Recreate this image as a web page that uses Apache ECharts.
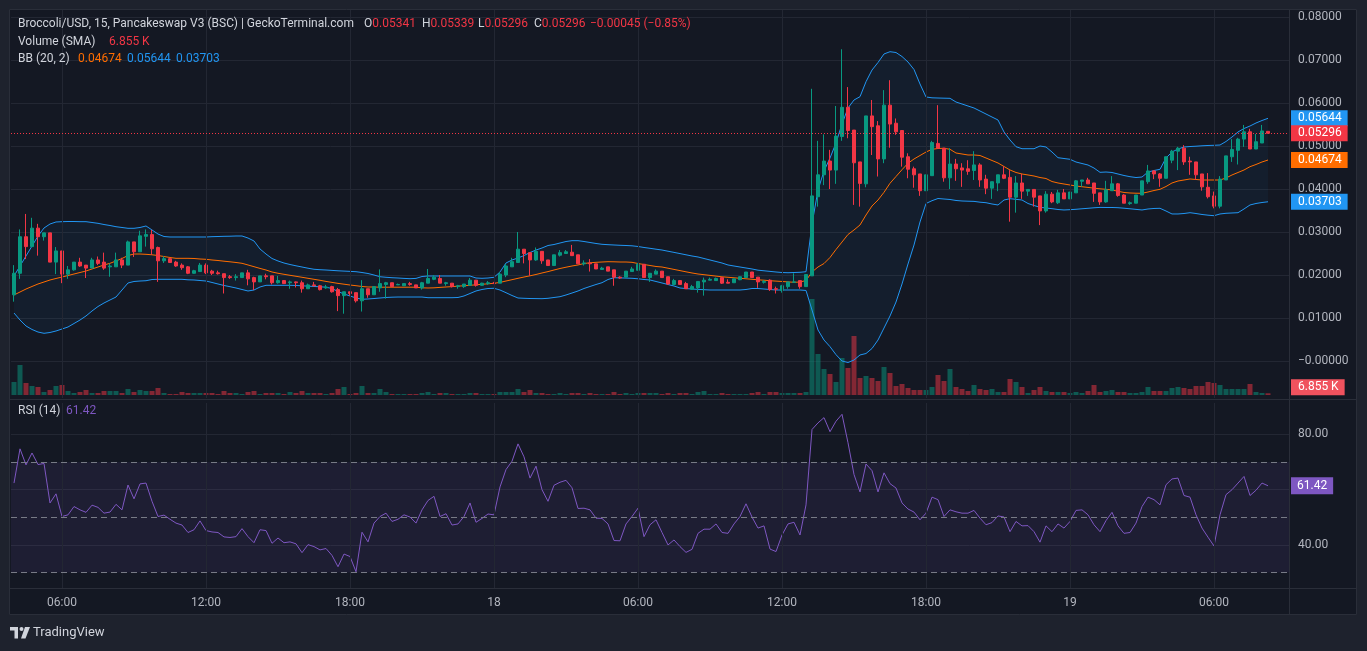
<!DOCTYPE html>
<html><head><meta charset="utf-8">
<script src="https://cdn.jsdelivr.net/npm/echarts@6/dist/echarts.min.js"></script>
<style>html,body{margin:0;padding:0;background:#1e222d;overflow:hidden}#c{width:1367px;height:651px}</style>
</head><body><div id="c"></div>
<script>
// ---- data (15-minute candles, 17th 04:00 -> 19th 08:15) ----
const openP = [.0154,.0204,.0289,.0266,.0309,.0289,.0298,.0230,.0256,.0202,
.0212,.0230,.0223,.0216,.0235,.0230,.0219,.0219,.0235,.0223,
.0277,.0254,.0290,.0294,.0264,.0233,.0238,.0230,.0223,.0219,
.0204,.0208,.0223,.0209,.0205,.0203,.0196,.0194,.0194,.0205,
.0194,.0184,.0198,.0198,.0182,.0187,.0182,.0184,.0182,.0168,
.0177,.0175,.0170,.0173,.0166,.0152,.0161,.0159,.0140,.0168,
.0154,.0170,.0178,.0182,.0177,.0175,.0180,.0177,.0170,.0181,
.0190,.0192,.0180,.0181,.0173,.0173,.0176,.0188,.0176,.0180,
.0181,.0181,.0200,.0219,.0229,.0260,.0252,.0235,.0255,.0235,
.0222,.0246,.0250,.0253,.0247,.0226,.0228,.0226,.0213,.0219,
.0212,.0195,.0195,.0208,.0211,.0225,.0194,.0202,.0209,.0196,
.0178,.0187,.0180,.0167,.0170,.0184,.0188,.0187,.0194,.0183,
.0182,.0189,.0194,.0207,.0195,.0183,.0188,.0168,.0164,.0173,
.0183,.0187,.0173,.0198,.0382,.0433,.0465,.0444,.0522,.0590,
.0537,.0463,.0412,.0570,.0547,.0470,.0595,.0553,.0536,.0475,
.0447,.0435,.0396,.0431,.0506,.0495,.0426,.0458,.0449,.0447,
.0443,.0456,.0423,.0402,.0414,.0433,.0427,.0381,.0414,.0395,
.0399,.0384,.0349,.0388,.0368,.0391,.0377,.0391,.0418,.0421,
.0414,.0391,.0370,.0396,.0412,.0386,.0366,.0367,.0386,.0417,
.0442,.0435,.0425,.0467,.0488,.0495,.0465,.0463,.0435,.0404,
.0384,.0360,.0421,.0475,.0490,.0516,.0533,.0493,.0507,.05341];
const closeP = [.0204,.0289,.0266,.0309,.0289,.0298,.0230,.0256,.0202,.0212,
.0230,.0221,.0216,.0235,.0227,.0216,.0221,.0235,.0223,.0277,
.0254,.0291,.0294,.0261,.0233,.0238,.0229,.0221,.0217,.0204,
.0210,.0223,.0205,.0204,.0203,.0194,.0194,.0196,.0205,.0191,
.0184,.0198,.0196,.0182,.0187,.0180,.0184,.0182,.0168,.0177,
.0175,.0166,.0172,.0161,.0152,.0161,.0157,.0140,.0168,.0154,
.0173,.0180,.0182,.0173,.0178,.0180,.0178,.0170,.0182,.0192,
.0195,.0181,.0182,.0173,.0175,.0179,.0188,.0176,.0181,.0182,
.0180,.0202,.0221,.0231,.0260,.0250,.0235,.0255,.0233,.0222,
.0247,.0252,.0254,.0245,.0226,.0228,.0226,.0214,.0216,.0209,
.0195,.0193,.0209,.0214,.0225,.0194,.0204,.0209,.0194,.0179,
.0187,.0178,.0168,.0173,.0185,.0188,.0190,.0192,.0181,.0181,
.0191,.0196,.0207,.0194,.0184,.0185,.0166,.0167,.0175,.0184,
.0184,.0173,.0201,.0384,.0433,.0465,.0444,.0523,.0590,.0536,
.0461,.0413,.0570,.0545,.0470,.0595,.0551,.0533,.0474,.0446,
.0433,.0396,.0433,.0508,.0495,.0426,.0458,.0447,.0444,.0441,
.0456,.0421,.0402,.0417,.0433,.0425,.0381,.0414,.0395,.0399,
.0381,.0349,.0388,.0370,.0391,.0377,.0393,.0419,.0421,.0412,
.0390,.0370,.0398,.0412,.0385,.0367,.0368,.0386,.0419,.0442,
.0435,.0425,.0475,.0488,.0495,.0463,.0463,.0433,.0405,.0382,
.0360,.0423,.0477,.0492,.0516,.0533,.0493,.0510,.0535,.05296];
const lowP = [.0138,.0191,.0237,.0266,.0245,.0280,.0230,.0202,.0181,.0191,
.0210,.0219,.0193,.0216,.0223,.0212,.0196,.0219,.0216,.0223,
.0242,.0254,.0266,.0247,.0184,.0228,.0228,.0219,.0212,.0202,
.0203,.0207,.0202,.0200,.0201,.0157,.0191,.0187,.0194,.0176,
.0165,.0184,.0190,.0178,.0180,.0179,.0168,.0171,.0159,.0168,
.0173,.0164,.0168,.0159,.0116,.0110,.0152,.0136,.0115,.0147,
.0154,.0161,.0145,.0173,.0177,.0175,.0175,.0170,.0166,.0181,
.0188,.0181,.0175,.0171,.0168,.0170,.0176,.0173,.0175,.0177,
.0179,.0181,.0195,.0219,.0229,.0227,.0198,.0233,.0226,.0222,
.0222,.0243,.0250,.0245,.0226,.0222,.0208,.0214,.0212,.0209,
.0175,.0191,.0195,.0208,.0211,.0194,.0184,.0202,.0194,.0177,
.0176,.0178,.0168,.0166,.0159,.0152,.0188,.0186,.0179,.0181,
.0182,.0188,.0194,.0194,.0170,.0180,.0163,.0157,.0159,.0168,
.0183,.0168,.0173,.0198,.0359,.0409,.0400,.0412,.0512,.0518,
.0363,.0359,.0404,.0479,.0429,.0460,.0496,.0526,.0452,.0425,
.0403,.0384,.0396,.0431,.0495,.0417,.0400,.0419,.0405,.0433,
.0421,.0405,.0388,.0377,.0395,.0423,.0324,.0345,.0377,.0384,
.0359,.0316,.0345,.0367,.0365,.0377,.0377,.0391,.0405,.0412,
.0370,.0363,.0368,.0396,.0382,.0367,.0363,.0367,.0386,.0412,
.0423,.0405,.0425,.0460,.0444,.0456,.0433,.0421,.0396,.0378,
.0355,.0355,.0421,.0463,.0457,.0498,.0493,.0493,.0507,.05296];
const highP = [.0223,.0306,.0342,.0333,.0319,.0298,.0298,.0265,.0256,.0221,
.0230,.0240,.0223,.0240,.0243,.0252,.0227,.0252,.0240,.0280,
.0277,.0303,.0306,.0305,.0266,.0244,.0240,.0233,.0227,.0221,
.0212,.0228,.0227,.0212,.0210,.0203,.0200,.0202,.0205,.0212,
.0196,.0198,.0203,.0198,.0198,.0188,.0187,.0185,.0187,.0180,
.0184,.0177,.0177,.0175,.0170,.0161,.0161,.0159,.0188,.0168,
.0173,.0213,.0184,.0182,.0180,.0180,.0184,.0177,.0184,.0214,
.0200,.0200,.0184,.0181,.0177,.0179,.0193,.0188,.0182,.0186,
.0184,.0207,.0226,.0240,.0300,.0260,.0252,.0264,.0255,.0235,
.0247,.0258,.0258,.0270,.0247,.0234,.0237,.0226,.0219,.0219,
.0212,.0197,.0209,.0219,.0228,.0225,.0204,.0213,.0209,.0196,
.0191,.0187,.0184,.0177,.0185,.0194,.0194,.0194,.0194,.0190,
.0191,.0197,.0207,.0207,.0195,.0188,.0190,.0173,.0177,.0184,
.0204,.0187,.0201,.0633,.0512,.0527,.0491,.0593,.0725,.0637,
.0537,.0463,.0570,.0607,.0558,.0630,.0653,.0564,.0536,.0483,
.0452,.0435,.0433,.0512,.0595,.0495,.0495,.0470,.0460,.0467,
.0488,.0460,.0433,.0417,.0433,.0453,.0444,.0430,.0435,.0399,
.0399,.0384,.0395,.0393,.0398,.0400,.0393,.0421,.0421,.0426,
.0414,.0391,.0419,.0430,.0414,.0388,.0371,.0386,.0419,.0456,
.0444,.0437,.0475,.0491,.0498,.0502,.0475,.0463,.0435,.0437,
.0394,.0430,.0477,.0516,.0519,.0549,.0540,.0528,.0549,.05341];
const volumeK = [52,120,48,36,32,12,20,36,40,16,
8,12,20,8,8,16,16,16,8,24,
12,20,16,16,28,8,4,4,12,8,
8,8,8,8,4,16,8,8,4,12,
16,4,8,8,8,4,12,8,16,8,
8,8,4,8,24,32,4,8,36,8,
8,24,12,4,4,4,4,4,8,12,
4,8,8,4,4,4,8,8,4,4,
4,12,12,12,24,12,20,8,8,4,
4,8,4,8,8,4,8,4,4,4,
12,4,8,4,8,8,8,8,4,8,
4,8,8,4,12,16,4,4,8,4,
4,4,4,8,12,4,12,12,8,8,
8,8,12,384,164,104,84,52,148,108,
236,68,76,68,56,112,88,36,44,28,
20,20,20,32,80,56,104,32,24,16,
40,24,20,24,12,12,64,52,32,8,
20,32,16,12,12,12,8,12,8,16,
40,12,16,20,12,12,8,8,12,32,
16,16,16,28,32,28,24,36,36,52,
48,40,24,24,24,24,44,12,8,6.855];
const bbUpper = [.01977,.02209,.02442,.02674,.02907,.03093,.03186,.03233,.03240,.03244,
.03244,.03240,.03240,.03221,.03202,.03174,.03151,.03123,.03105,.03086,
.03086,.03105,.03140,.03047,.02953,.02895,.02884,.02884,.02884,.02884,
.02884,.02884,.02884,.02891,.02895,.02900,.02902,.02907,.02907,.02860,
.02791,.02605,.02488,.02384,.02326,.02279,.02244,.02214,.02186,.02158,
.02133,.02123,.02116,.02107,.02098,.02091,.02084,.02077,.02058,.02035,
.02000,.01960,.01947,.01937,.01930,.01921,.01914,.01921,.01965,.01977,
.01977,.01977,.01977,.01977,.01977,.01977,.01977,.01930,.01923,.01930,
.01947,.02070,.02279,.02349,.02395,.02453,.02523,.02581,.02628,.02686,
.02709,.02744,.02779,.02798,.02798,.02779,.02756,.02733,.02714,.02705,
.02698,.02691,.02686,.02679,.02663,.02640,.02621,.02600,.02581,.02553,
.02526,.02498,.02470,.02442,.02419,.02384,.02349,.02314,.02279,.02233,
.02209,.02186,.02163,.02140,.02112,.02098,.02084,.02070,.02058,.02053,
.02058,.02063,.02077,.03186,.03977,.04419,.04721,.05070,.05512,.05884,
.06070,.06147,.06495,.06767,.06942,.07140,.07193,.07174,.07081,.06953,
.06779,.06442,.06140,.06121,.06116,.06112,.06109,.06023,.05977,.05930,
.05884,.05814,.05744,.05674,.05605,.05326,.05140,.04984,.04937,.04937,
.04937,.05000,.04977,.04860,.04728,.04709,.04691,.04628,.04593,.04558,
.04488,.04388,.04395,.04384,.04349,.04314,.04286,.04267,.04279,.04395,
.04430,.04458,.04721,.04860,.04930,.04977,.04988,.04995,.05005,.05012,
.05016,.05023,.05105,.05209,.05326,.05407,.05465,.05535,.05593,.05644];
const bbBasis = [.01535,.01605,.01674,.01733,.01791,.01837,.01884,.01919,.01953,.01988,
.02023,.02058,.02093,.02140,.02186,.02233,.02272,.02326,.02384,.02453,
.02488,.02488,.02481,.02470,.02453,.02430,.02407,.02388,.02388,.02388,
.02384,.02372,.02365,.02349,.02337,.02321,.02307,.02291,.02272,.02233,
.02193,.02153,.02116,.02070,.02040,.02016,.01993,.01970,.01947,.01923,
.01900,.01877,.01851,.01828,.01805,.01786,.01767,.01751,.01733,.01721,
.01721,.01716,.01716,.01716,.01716,.01716,.01716,.01716,.01702,.01698,
.01702,.01712,.01721,.01730,.01740,.01751,.01760,.01772,.01784,.01795,
.01807,.01828,.01860,.01891,.01923,.01953,.01981,.02012,.02047,.02079,
.02116,.02151,.02181,.02209,.02233,.02267,.02284,.02295,.02302,.02309,
.02307,.02302,.02302,.02295,.02267,.02244,.02221,.02198,.02186,.02158,
.02130,.02102,.02074,.02047,.02023,.02007,.01991,.01974,.01958,.01947,
.01935,.01923,.01912,.01900,.01888,.01879,.01867,.01858,.01849,.01840,
.01830,.01837,.01872,.02070,.02186,.02267,.02407,.02593,.02767,.02942,
.03047,.03163,.03395,.03605,.03744,.03923,.04133,.04291,.04449,.04598,
.04698,.04779,.04860,.04923,.04942,.04947,.04923,.04837,.04814,.04791,
.04791,.04779,.04721,.04663,.04605,.04523,.04442,.04384,.04349,.04326,
.04302,.04267,.04244,.04174,.04140,.04116,.04093,.04070,.04053,.04037,
.04019,.04005,.03993,.03977,.03947,.03919,.03907,.03902,.03900,.03930,
.03965,.03993,.04058,.04140,.04186,.04209,.04233,.04221,.04209,.04209,
.04209,.04209,.04256,.04326,.04384,.04442,.04519,.04570,.04628,.04674];
const bbLower = [.01116,.00953,.00814,.00733,.00674,.00644,.00663,.00698,.00744,.00791,
.00872,.00953,.01047,.01163,.01267,.01349,.01419,.01488,.01651,.01814,
.01849,.01860,.01867,.01895,.01900,.01900,.01900,.01900,.01900,.01888,
.01884,.01872,.01860,.01826,.01791,.01756,.01728,.01698,.01663,.01628,
.01651,.01721,.01760,.01760,.01760,.01760,.01760,.01756,.01749,.01740,
.01733,.01726,.01716,.01686,.01616,.01558,.01512,.01465,.01435,.01442,
.01453,.01465,.01477,.01484,.01488,.01488,.01488,.01488,.01488,.01472,
.01472,.01472,.01472,.01472,.01477,.01512,.01570,.01628,.01663,.01686,
.01691,.01651,.01588,.01523,.01465,.01458,.01453,.01451,.01449,.01458,
.01477,.01495,.01535,.01581,.01628,.01686,.01733,.01779,.01821,.01895,
.01937,.01933,.01928,.01923,.01912,.01895,.01884,.01849,.01814,.01779,
.01744,.01698,.01684,.01674,.01665,.01658,.01651,.01651,.01651,.01651,
.01651,.01651,.01663,.01686,.01686,.01674,.01663,.01651,.01651,.01651,
.01651,.01651,.01640,.01186,.00721,.00488,.00333,.00147,.00000,-.00035,
.00023,.00140,.00174,.00291,.00488,.00767,.01047,.01372,.01791,.02256,
.02698,.03233,.03663,.03728,.03779,.03767,.03756,.03733,.03721,.03716,
.03712,.03693,.03681,.03651,.03628,.03744,.03774,.03760,.03744,.03663,
.03616,.03574,.03558,.03542,.03523,.03512,.03519,.03528,.03540,.03551,
.03563,.03572,.03570,.03570,.03565,.03553,.03540,.03526,.03512,.03535,
.03547,.03551,.03488,.03419,.03419,.03430,.03449,.03430,.03407,.03391,
.03379,.03419,.03435,.03442,.03449,.03535,.03628,.03663,.03686,.03703];
const rsi = [62.4,74.8,69.0,73.3,69.1,69.5,55.2,58.5,50.3,50.9,
53.9,52.7,51.8,54.4,53.6,51.5,51.9,54.7,52.7,61.7,
56.7,62.1,62.4,55.8,50.3,50.8,49.3,47.9,47.2,44.5,
45.5,48.7,45.2,44.7,44.5,42.9,42.7,43.0,45.9,43.0,
40.8,45.5,45.2,40.6,42.5,40.8,41.1,40.4,37.2,40.1,
39.4,38.2,38.7,36.2,32.1,36.7,35.8,30.3,44.6,41.1,
47.9,50.3,51.5,48.5,49.3,50.9,50.1,47.9,52.7,56.1,
57.6,50.3,51.3,47.2,47.6,50.3,55.2,48.2,49.6,51.2,
50.9,61.0,67.3,70.3,76.6,71.9,64.2,68.5,60.0,55.8,
61.6,62.7,63.4,60.7,53.2,53.3,52.7,49.7,49.6,47.6,
41.6,41.5,47.6,50.3,53.3,43.0,47.3,49.1,44.5,40.0,
41.8,39.4,37.3,38.4,44.2,45.7,45.7,47.6,44.5,44.2,
47.6,50.3,54.9,50.1,46.1,46.9,38.5,37.6,43.6,47.6,
48.2,43.6,54.5,81.8,84.2,86.1,81.0,84.8,87.3,77.0,
65.5,59.2,69.3,66.9,59.2,66.1,62.2,60.6,55.2,53.0,
51.9,49.1,51.5,57.3,56.4,50.3,52.7,52.0,51.5,51.5,
52.5,49.7,47.3,48.1,50.5,50.1,44.8,48.5,46.9,47.0,
44.8,41.0,46.9,44.8,47.6,46.1,48.5,52.5,52.7,50.9,
47.3,44.8,48.8,51.8,46.9,44.2,44.5,47.9,53.9,57.3,
56.4,54.5,61.8,63.9,64.2,57.9,57.3,50.9,46.1,42.8,
39.6,50.9,58.2,60.0,62.4,64.8,57.9,59.8,62.4,61.42];
const priceTicks = [0,0.01,0.02,0.03,0.04,0.05,0.06,0.07,0.08];
const rsiLabelTicks = [40,80];
const rsiGridTicks = [40,60,80];
const rsiLevels = [70,50,30];
const timeTicks = {8:'06:00',32:'12:00',56:'18:00',80:'18',104:'06:00',128:'12:00',152:'18:00',176:'19',200:'06:00'};
const N_SLOTS = 213; // 210 candles + empty right margin
const categories = [];
for (let i = 0; i < N_SLOTS; i++) {
  const m = 4 * 60 + 15 * i, d = 17 + Math.floor(m / 1440), mm = m % 1440;
  categories.push(d + ' ' + String(Math.floor(mm / 60)).padStart(2, '0') + ':' + String(mm % 60).padStart(2, '0'));
}

// ---- styles ----
const UP = '#089981', DOWN = '#f23645', BLUE = '#2196f3', ORANGE = '#ff6d00', PURPLE = '#7e57c2';
const GRIDC = '#232733', TXT = '#b2b5be', FONT = 'Roboto';
const CLEAR = 'rgba(0,0,0,0)';
const last = closeP.length - 1;
function tag(text, bg, extra) {
  return Object.assign({ show: true, position: 'end', formatter: text, color: '#ffffff', backgroundColor: bg,
    padding: [2, 6, 1, 7], fontSize: 12, fontFamily: FONT, lineHeight: 13, distance: 2, opacity: 1 }, extra || {});
}
function tagLine(value, text, bg, extra) {
  return { silent: true, symbol: 'none', precision: 6, lineStyle: { color: CLEAR, width: 1, type: 'solid' }, data: [{ yAxis: value }], label: tag(text, bg, extra) };
}
const vLines = Object.keys(timeTicks).map(k => ({ xAxis: +k }));

const chart = echarts.init(document.getElementById('c'), null, { renderer: 'canvas', width: 1367, height: 651 });
const option = {
  backgroundColor: '#141823',
  animation: false,
  grid: [
    { left: 11, right: 78, top: 10, height: 388 },
    { left: 11, right: 78, top: 275, height: 120 },
    { left: 11, right: 78, top: 403, height: 185 }
  ],
  xAxis: [
    { type: 'category', gridIndex: 0, data: categories, show: false },
    { type: 'category', gridIndex: 1, data: categories, show: false },
    { type: 'category', gridIndex: 2, data: categories, axisLine: { show: false }, axisTick: { show: false }, splitLine: { show: false },
      axisLabel: { interval: (i) => timeTicks[i] !== undefined, formatter: (v, i) => timeTicks[i] || '', color: TXT, fontSize: 12, fontFamily: FONT, margin: 9 } }
  ],
  yAxis: [
    { type: 'value', gridIndex: 0, position: 'right', min: (361 - 398) / 4300, max: (361 - 10) / 4300,
      axisLine: { show: false }, axisTick: { show: false, customValues: priceTicks },
      axisLabel: { customValues: priceTicks, formatter: v => (Math.abs(v) < 1e-9 ? '\u22120.00000' : v.toFixed(5)), color: TXT, fontSize: 12, fontFamily: FONT, margin: 9 },
      splitLine: { show: true, lineStyle: { color: GRIDC, width: 1 } } },
    { type: 'value', gridIndex: 1, min: 0, max: 480, show: false },
    { type: 'value', gridIndex: 2, position: 'right', min: 24.4, max: 91.4,
      axisLine: { show: false }, axisTick: { show: false, customValues: rsiGridTicks },
      axisLabel: { customValues: rsiLabelTicks, formatter: v => v.toFixed(2), color: TXT, fontSize: 12, fontFamily: FONT, margin: 9 },
      splitLine: { show: true, lineStyle: { color: GRIDC, width: 1 } } }
  ],
  series: [
    { name: 'vgrid', type: 'line', xAxisIndex: 0, yAxisIndex: 0, data: [], silent: true, z: 0,
      markLine: { silent: true, symbol: 'none', label: { show: false }, lineStyle: { color: GRIDC, width: 1, type: 'solid' }, data: vLines } },
    { name: 'volume', type: 'bar', xAxisIndex: 1, yAxisIndex: 1, barWidth: 5, z: 1, silent: true, clip: false,
      data: volumeK.map((v, i) => ({ value: v, itemStyle: { color: closeP[i] >= openP[i] ? 'rgba(8,153,129,0.5)' : 'rgba(242,54,69,0.5)' } })),
      markLine: tagLine(volumeK[last], '6.855 K', '#f0525e', { offset: [0, -6] }) },
    { name: 'bbBase', type: 'line', data: bbLower, stack: 'bb', stackStrategy: 'all', symbol: 'none', lineStyle: { opacity: 0 }, silent: true, z: 1 },
    { name: 'bbFill', type: 'line', data: bbUpper.map((u, i) => u - bbLower[i]), stack: 'bb', stackStrategy: 'all', symbol: 'none',
      lineStyle: { opacity: 0 }, areaStyle: { color: 'rgba(33,150,243,0.07)' }, silent: true, z: 1 },
    { name: 'bbUpper', type: 'line', data: bbUpper, symbol: 'none', lineStyle: { color: BLUE, width: 1 }, z: 2, silent: true, clip: false,
      markLine: tagLine(bbUpper[last], '0.05644', BLUE) },
    { name: 'bbLower', type: 'line', data: bbLower, symbol: 'none', lineStyle: { color: BLUE, width: 1 }, z: 2, silent: true, clip: false,
      markLine: tagLine(bbLower[last], '0.03703', BLUE) },
    { name: 'bbBasis', type: 'line', data: bbBasis, symbol: 'none', lineStyle: { color: ORANGE, width: 1 }, z: 2, silent: true, clip: false,
      markLine: tagLine(bbBasis[last], '0.04674', ORANGE) },
    { name: 'price', type: 'candlestick', barWidth: 4, z: 3, silent: true, clip: false,
      data: openP.map((o, i) => [o, closeP[i], lowP[i], highP[i]]),
      itemStyle: { color: UP, color0: DOWN, borderColor: UP, borderColor0: DOWN, borderWidth: 1 },
      markLine: { silent: true, symbol: 'none', precision: 6, data: [{ yAxis: closeP[last] }], lineStyle: { color: DOWN, width: 1, type: [1, 2] },
        label: tag('0.05296', DOWN) } },
    { name: 'rgrid', type: 'line', xAxisIndex: 2, yAxisIndex: 2, data: [], silent: true, z: 0,
      markLine: { silent: true, symbol: 'none', label: { show: false }, lineStyle: { color: GRIDC, width: 1, type: 'solid' }, data: vLines } },
    { name: 'rsi', type: 'line', xAxisIndex: 2, yAxisIndex: 2, data: rsi, symbol: 'none', lineStyle: { color: PURPLE, width: 1 }, z: 3, silent: true, clip: false,
      markArea: { silent: true, itemStyle: { color: 'rgba(126,87,194,0.1)' }, data: [[{ yAxis: 30 }, { yAxis: 70 }]] },
      markLine: { silent: true, symbol: 'none', precision: 4,
        data: rsiLevels.map(v => ({ yAxis: v, label: { show: false }, lineStyle: { color: '#787b86', width: 1, type: [6, 4] } }))
          .concat([{ yAxis: rsi[last], lineStyle: { color: CLEAR, width: 1, type: 'solid' }, label: tag('61.42', PURPLE, { padding: [2, 6, 2, 6] }) }]) } }
  ],
  graphic: [
    { type: 'rect', silent: true, z: 100, shape: { x: 0, y: 0, width: 1367, height: 9 }, style: { fill: '#1e222d' } },
    { type: 'rect', silent: true, z: 100, shape: { x: 0, y: 0, width: 9, height: 651 }, style: { fill: '#1e222d' } },
    { type: 'rect', silent: true, z: 100, shape: { x: 1357, y: 0, width: 10, height: 651 }, style: { fill: '#1e222d' } },
    { type: 'rect', silent: true, z: 100, shape: { x: 0, y: 615, width: 1367, height: 36 }, style: { fill: '#1e222d' } },
    { type: 'rect', silent: true, z: 101, shape: { x: 9.5, y: 9.5, width: 1347, height: 605 }, style: { fill: 'none', stroke: '#2a2e39', lineWidth: 1 } },
    { type: 'line', silent: true, z: 101, shape: { x1: 9, y1: 399.5, x2: 1357, y2: 399.5 }, style: { stroke: '#2a2e39', lineWidth: 1 } },
    { type: 'line', silent: true, z: 101, shape: { x1: 9, y1: 588.5, x2: 1357, y2: 588.5 }, style: { stroke: '#2a2e39', lineWidth: 1 } },
    { type: 'line', silent: true, z: 101, shape: { x1: 1289.5, y1: 9, x2: 1289.5, y2: 615 }, style: { stroke: '#2a2e39', lineWidth: 1 } },
    // legend lines
    { type: 'text', silent: true, z: 110, x: 18, y: 24, style: { text: 'Broccoli/USD, 15, Pancakeswap V3 (BSC) | GeckoTerminal.com', fill: '#d1d4dc', font: '12px Roboto', verticalAlign: 'middle' } },
    { type: 'text', silent: true, z: 110, x: 364, y: 24, style: { text: '{l|O}{v|0.05341}', rich: { l: { fill: '#d1d4dc', font: '12px Roboto' }, v: { fill: DOWN, font: '12px Roboto' } }, verticalAlign: 'middle' } },
    { type: 'text', silent: true, z: 110, x: 422, y: 24, style: { text: '{l|H}{v|0.05339}', rich: { l: { fill: '#d1d4dc', font: '12px Roboto' }, v: { fill: DOWN, font: '12px Roboto' } }, verticalAlign: 'middle' } },
    { type: 'text', silent: true, z: 110, x: 478, y: 24, style: { text: '{l|L}{v|0.05296}', rich: { l: { fill: '#d1d4dc', font: '12px Roboto' }, v: { fill: DOWN, font: '12px Roboto' } }, verticalAlign: 'middle' } },
    { type: 'text', silent: true, z: 110, x: 534, y: 24, style: { text: '{l|C}{v|0.05296}', rich: { l: { fill: '#d1d4dc', font: '12px Roboto' }, v: { fill: DOWN, font: '12px Roboto' } }, verticalAlign: 'middle' } },
    { type: 'text', silent: true, z: 110, x: 590, y: 24, style: { text: '\u22120.00045 (\u22120.85%)', fill: DOWN, font: '12px Roboto', verticalAlign: 'middle' } },
    { type: 'text', silent: true, z: 110, x: 18, y: 42, style: { text: 'Volume (SMA)', fill: '#d1d4dc', font: '12px Roboto', verticalAlign: 'middle' } },
    { type: 'text', silent: true, z: 110, x: 109, y: 42, style: { text: '6.855 K', fill: DOWN, font: '12px Roboto', verticalAlign: 'middle' } },
    { type: 'text', silent: true, z: 110, x: 18, y: 59, style: { text: 'BB (20, 2)', fill: '#d1d4dc', font: '12px Roboto', verticalAlign: 'middle' } },
    { type: 'text', silent: true, z: 110, x: 78, y: 59, style: { text: '0.04674', fill: ORANGE, font: '12px Roboto', verticalAlign: 'middle' } },
    { type: 'text', silent: true, z: 110, x: 127, y: 59, style: { text: '0.05644', fill: BLUE, font: '12px Roboto', verticalAlign: 'middle' } },
    { type: 'text', silent: true, z: 110, x: 176, y: 59, style: { text: '0.03703', fill: BLUE, font: '12px Roboto', verticalAlign: 'middle' } },
    { type: 'text', silent: true, z: 110, x: 18, y: 411, style: { text: 'RSI (14)', fill: '#d1d4dc', font: '12px Roboto', verticalAlign: 'middle' } },
    { type: 'text', silent: true, z: 110, x: 66, y: 411, style: { text: '61.42', fill: PURPLE, font: '12px Roboto', verticalAlign: 'middle' } },
    // TradingView mark
    { type: 'polygon', silent: true, z: 110, shape: { points: [[10, 627], [18, 627], [18, 638.5], [14.5, 638.5], [14.5, 630.5], [10, 630.5]] }, style: { fill: '#d1d4dc' } },
    { type: 'circle', silent: true, z: 110, shape: { cx: 21.5, cy: 629, r: 2 }, style: { fill: '#d1d4dc' } },
    { type: 'polygon', silent: true, z: 110, shape: { points: [[25, 627], [30, 627], [25.5, 638.5], [21, 638.5]] }, style: { fill: '#d1d4dc' } },
    { type: 'text', silent: true, z: 110, x: 33, y: 633, style: { text: 'TradingView', fill: '#d1d4dc', font: '13px Roboto', verticalAlign: 'middle' } }
  ]
};
chart.setOption(option);
</script>
</body></html>
